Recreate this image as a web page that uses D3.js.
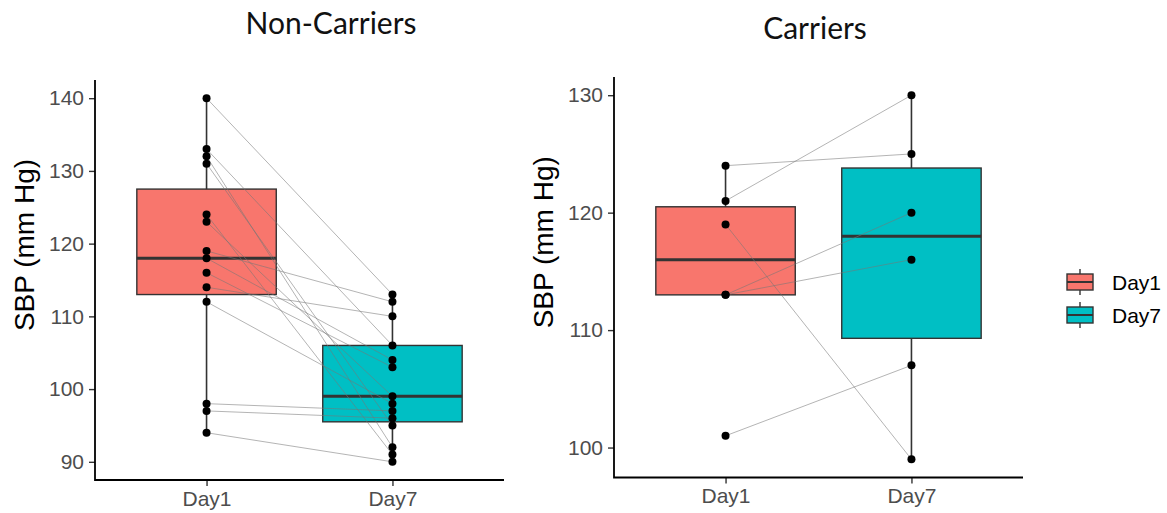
<!DOCTYPE html>
<html>
<head>
<meta charset="utf-8">
<script src="https://cdn.jsdelivr.net/npm/d3@7"></script>
<style>
  body { margin: 0; background: #fff; }
  svg { display: block; }
</style>
</head>
<body>
<div id="chart"></div>
<script>
// datos
var days = ["Day1", "Day7"];
var dayColors = ["#F8766D", "#00BFC4"];

// Non-Carriers: pares Day1 -> Day7
var ncDay1 = [140, 133, 132, 131, 124, 123, 119, 118, 116, 114, 112, 98, 97, 94];
var ncDay7 = [113, 106, 92, 95, 91, 99, 112, 104, 103, 110, 98, 97, 96, 90];
// [min, q1, mediana, q3, max]
var ncStats = [[94, 113, 118, 127.5, 140], [90, 95.5, 99, 106, 113]];
var ncTicks = [90, 100, 110, 120, 130, 140];

// Carriers
var cDay1 = [124, 121, 119, 113, 113, 101];
var cDay7 = [125, 130, 99, 120, 116, 107];
var cStats = [[113, 113, 116, 120.5, 124], [99, 109.3, 118, 123.8, 130]];
var cTicks = [100, 110, 120, 130];

var W = 1167, H = 513;
var svg = d3.select("#chart").append("svg")
    .attr("width", W)
    .attr("height", H);

function panel(opts) {
    var x = d3.scalePoint().domain(days).range([opts.x0, opts.x1]).padding(0.6);
    var y = d3.scaleLinear().domain(opts.domain).range([opts.y0, opts.y1]);
    var step = x.step();
    var bw = step * 0.75;
    var g = svg.append("g");

    // cajas
    opts.stats.forEach(function(s, i) {
        var cx = x(days[i]);
        g.append("line")
            .attr("x1", cx).attr("x2", cx)
            .attr("y1", y(s[0])).attr("y2", y(s[4]))
            .attr("stroke", "#333").attr("stroke-width", 1.6);
        g.append("rect")
            .attr("x", cx - bw / 2).attr("width", bw)
            .attr("y", y(s[3])).attr("height", y(s[1]) - y(s[3]))
            .attr("fill", dayColors[i])
            .attr("stroke", "#333").attr("stroke-width", 1.4);
        g.append("line")
            .attr("x1", cx - bw / 2).attr("x2", cx + bw / 2)
            .attr("y1", y(s[2])).attr("y2", y(s[2]))
            .attr("stroke", "#333").attr("stroke-width", 3);
    });

    // líneas pareadas
    g.selectAll(".pair")
        .data(opts.a)
        .enter().append("line")
        .attr("x1", x("Day1")).attr("y1", function(d) { return y(d); })
        .attr("x2", x("Day7")).attr("y2", function(d, i) { return y(opts.b[i]); })
        .attr("stroke", "#777").attr("stroke-opacity", 0.55).attr("stroke-width", 1);

    // puntos
    var pts = opts.a.map(function(v) { return [days[0], v]; })
        .concat(opts.b.map(function(v) { return [days[1], v]; }));
    g.selectAll(".pt")
        .data(pts)
        .enter().append("circle")
        .attr("cx", function(d) { return x(d[0]); })
        .attr("cy", function(d) { return y(d[1]); })
        .attr("r", 4)
        .attr("fill", "#000");

    // ejes
    var yAxis = g.append("g")
        .attr("transform", "translate(" + opts.x0 + ",0)")
        .call(d3.axisLeft(y).tickValues(opts.ticks).tickSize(6).tickPadding(5));
    var xAxis = g.append("g")
        .attr("transform", "translate(0," + opts.y0 + ")")
        .call(d3.axisBottom(x).tickSize(6).tickPadding(5));
    [yAxis, xAxis].forEach(function(a) {
        a.select(".domain").remove();
        a.selectAll(".tick line").attr("stroke", "#333").attr("stroke-width", 1.4);
        a.selectAll(".tick text")
            .attr("fill", "#4d4d4d")
            .style("font-family", "'Liberation Sans', Arial, sans-serif")
            .style("font-size", "21px");
    });
    g.append("path")
        .attr("d", "M" + opts.x0 + "," + opts.y1 + "V" + opts.y0 + "H" + opts.x1)
        .attr("fill", "none").attr("stroke", "#000").attr("stroke-width", 1.8);

    g.append("text")
        .attr("transform", "translate(" + opts.labelX + "," + ((opts.y0 + opts.y1) / 2 - 35) + ") rotate(-90)")
        .attr("text-anchor", "middle")
        .style("font-family", "'Liberation Sans', Arial, sans-serif")
        .style("font-size", "28px")
        .text("SBP (mm Hg)");

    g.append("text")
        .attr("x", opts.titleX).attr("y", opts.titleY)
        .attr("text-anchor", "middle")
        .style("font-family", "Lato, 'Open Sans', sans-serif")
        .style("font-size", "30px")
        .attr("fill", "#111")
        .text(opts.title);
}

panel({
    title: "Non-Carriers", titleX: 331, titleY: 34,
    x0: 95, x1: 504, y0: 480, y1: 80,
    domain: [87.5, 142.5], ticks: ncTicks,
    stats: ncStats, a: ncDay1, b: ncDay7, labelX: 34
});

panel({
    title: "Carriers", titleX: 815, titleY: 39,
    x0: 614, x1: 1023, y0: 477.5, y1: 77,
    domain: [97.45, 131.55], ticks: cTicks,
    stats: cStats, a: cDay1, b: cDay7, labelX: 553
});

// leyenda
var legend = svg.append("g").attr("transform", "translate(1067,282)");
days.forEach(function(d, i) {
    var row = legend.append("g").attr("transform", "translate(0," + (i * 33) + ")");
    row.append("line")
        .attr("x1", 13).attr("x2", 13).attr("y1", -13).attr("y2", 13)
        .attr("stroke", "#333").attr("stroke-width", 1.4);
    row.append("rect")
        .attr("x", 0).attr("y", -8).attr("width", 26).attr("height", 16)
        .attr("fill", dayColors[i]).attr("stroke", "#333").attr("stroke-width", 1.4);
    row.append("line")
        .attr("x1", 0).attr("x2", 26).attr("y1", 0).attr("y2", 0)
        .attr("stroke", "#333").attr("stroke-width", 2);
    row.append("text")
        .attr("x", 45).attr("y", 0).attr("dy", "0.36em")
        .style("font-family", "'Liberation Sans', Arial, sans-serif")
        .style("font-size", "21px")
        .text(d);
});
</script>
</body>
</html>
